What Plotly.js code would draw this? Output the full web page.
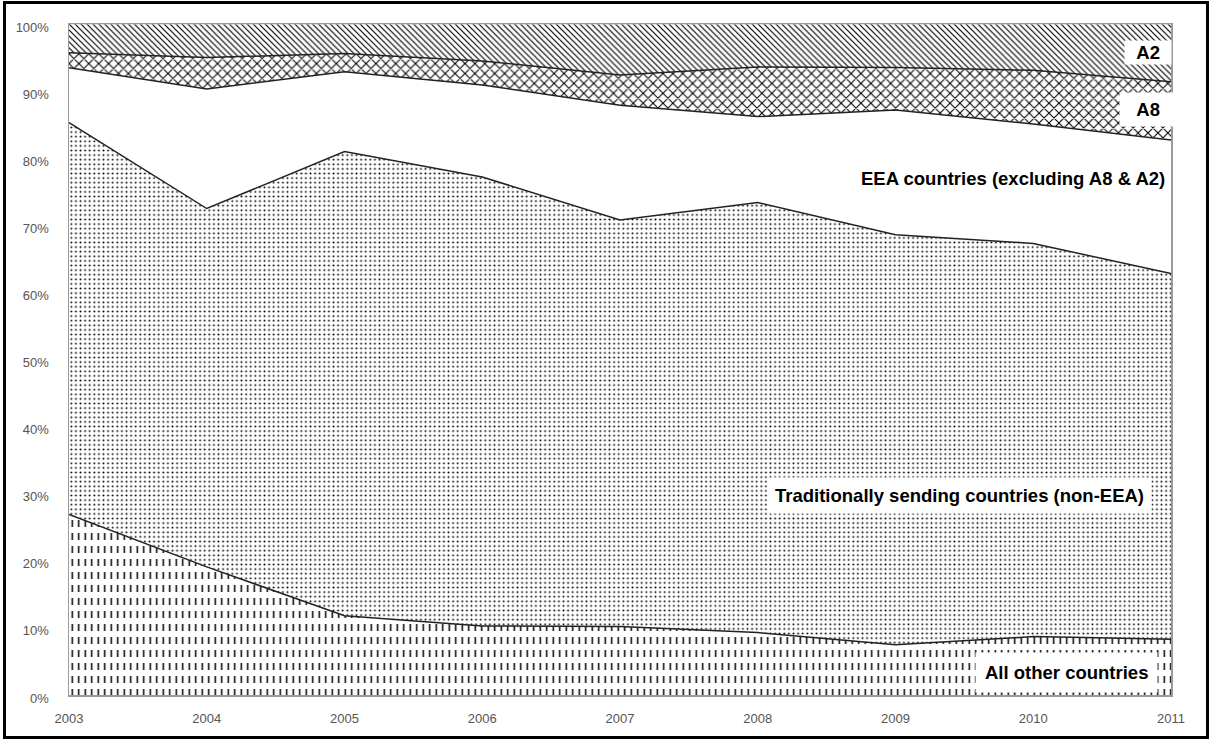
<!DOCTYPE html>
<html>
<head>
<meta charset="utf-8">
<script src="https://cdn.plot.ly/plotly-3.0.1.min.js"></script>
<style>
  html, body { margin: 0; padding: 0; background: #fff; }
  #wrap { position: relative; width: 1213px; height: 740px; }
  #chart { position: absolute; left: 0; top: 0; width: 1213px; height: 740px; }
  #frame { position: absolute; left: 3px; top: 1px; width: 1206px; height: 738px; box-sizing: border-box; border: 3px solid #000; pointer-events: none; }
</style>
</head>
<body>
<div id="wrap">
  <div id="chart"></div>
  <div id="frame"></div>
</div>
<script>
// Data (percent share by year)
const years = ['2003', '2004', '2005', '2006', '2007', '2008', '2009', '2010', '2011'];
const allOther = [26.9, 19.1, 11.8, 10.3, 10.2, 9.3, 7.5, 8.7, 8.3];
const traditional = [58.4, 53.4, 69.2, 66.9, 60.6, 64.1, 61.1, 58.6, 54.5];
const eea = [8.2, 17.8, 11.9, 13.7, 17.1, 12.8, 18.6, 17.8, 19.9];
const a8 = [2.2, 4.7, 2.7, 3.6, 4.5, 7.4, 6.3, 8.0, 8.7];
const a2 = [4.3, 5.0, 4.4, 5.5, 7.6, 6.4, 6.5, 6.9, 8.6];
const yTickVals = [0, 10, 20, 30, 40, 50, 60, 70, 80, 90, 100];
const seriesLabels = ['All other countries', 'Traditionally sending countries (non-EEA)',
  'EEA countries (excluding A8 & A2)', 'A8', 'A2'];

const lineDark = { color: '#222', width: 1.5 };

const traces = [
  {
    name: seriesLabels[0], x: years, y: allOther, stackgroup: 'one', mode: 'lines',
    line: lineDark, fillcolor: 'white',
    fillpattern: { shape: '|', fgcolor: '#000', bgcolor: '#fff', size: 6.5, solidity: 0.2 }
  },
  {
    name: seriesLabels[1], x: years, y: traditional, stackgroup: 'one', mode: 'lines',
    line: lineDark, fillcolor: 'white',
    fillpattern: { shape: '.', fgcolor: '#000', bgcolor: '#fff', size: 4.6, solidity: 0.14 }
  },
  {
    name: seriesLabels[2], x: years, y: eea, stackgroup: 'one', mode: 'lines',
    line: lineDark, fillcolor: '#ffffff'
  },
  {
    name: seriesLabels[3], x: years, y: a8, stackgroup: 'one', mode: 'lines',
    line: lineDark, fillcolor: 'white',
    fillpattern: { shape: 'x', fgcolor: '#000', bgcolor: '#fff', size: 7, solidity: 0.28 }
  },
  {
    name: seriesLabels[4], x: years, y: a2, stackgroup: 'one', mode: 'lines',
    line: { color: '#c8c8c8', width: 1.2 }, fillcolor: 'white',
    fillpattern: { shape: '\\', fgcolor: '#000', bgcolor: '#fff', size: 4.2, solidity: 0.28 }
  }
];

const labelFont = { family: 'Liberation Sans, Arial, sans-serif', size: 18.5, color: '#000' };
const sp = '\u00a0\u00a0';

const annotations = [
  { text: sp + '<b>A2</b>' + sp, x: 0.979, y: 0.958, xanchor: 'center', yanchor: 'middle', borderpad: 1 },
  { text: sp + '<b>A8</b>' + sp, x: 0.979, y: 0.872, xanchor: 'center', yanchor: 'middle', borderpad: 6 },
  { text: '<b>EEA countries (excluding A8 & A2)</b>', x: 0.997, y: 0.770, xanchor: 'right', yanchor: 'middle', borderpad: 2 },
  { text: '<b>Traditionally sending countries (non-EEA)</b>', x: 0.8085, y: 0.2966, xanchor: 'center', yanchor: 'middle', borderpad: 7 },
  { text: '<b>All other countries</b>', x: 0.905, y: 0.0328, xanchor: 'center', yanchor: 'middle', borderpad: 9 }
].map(a => Object.assign({
  xref: 'paper', yref: 'paper', showarrow: false,
  font: labelFont, bgcolor: '#ffffff'
}, a));

const layout = {
  width: 1213, height: 740,
  margin: { l: 69, r: 42, t: 24, b: 45 },
  paper_bgcolor: '#fff', plot_bgcolor: '#fff',
  showlegend: false,
  xaxis: {
    type: 'category', range: [0, 8], showgrid: false, zeroline: false,
    showline: true, linecolor: '#9a9a9a', linewidth: 1.5, mirror: true,
    ticks: '', ticklabelstandoff: 11,
    tickfont: { family: 'Liberation Sans, Arial, sans-serif', size: 13, color: '#555' }
  },
  yaxis: {
    range: [0, 100], tickvals: yTickVals, ticktext: yTickVals.map(v => v + '%'),
    showgrid: false, zeroline: false,
    showline: true, linecolor: '#9a9a9a', linewidth: 1.5, mirror: true,
    ticks: '', ticklabelstandoff: 16, ticklabelshift: 3,
    tickfont: { family: 'Liberation Sans, Arial, sans-serif', size: 13, color: '#555' }
  },
  annotations: annotations
};

Plotly.newPlot('chart', traces, layout, { staticPlot: true, displayModeBar: false }).then(gd => {
  // Restyle the vertical-line pattern of the bottom area into short dashes
  const fill = gd.querySelector('.scatterlayer .trace .js-fill');
  if (!fill) return;
  const m = (fill.style.fill || fill.getAttribute('fill') || '').match(/url\(["']?#([^"')]+)["']?\)/);
  if (!m) return;
  const pat = document.getElementById(m[1]);
  if (!pat) return;
  const w = parseFloat(pat.getAttribute('width')) || 6.5;
  pat.setAttribute('height', 13);
  const path = pat.querySelector('path');
  if (path) {
    path.setAttribute('d', 'M' + (w / 2) + ',2l0,7');
    path.style.strokeWidth = '1.5px';
  }
});
</script>
</body>
</html>
